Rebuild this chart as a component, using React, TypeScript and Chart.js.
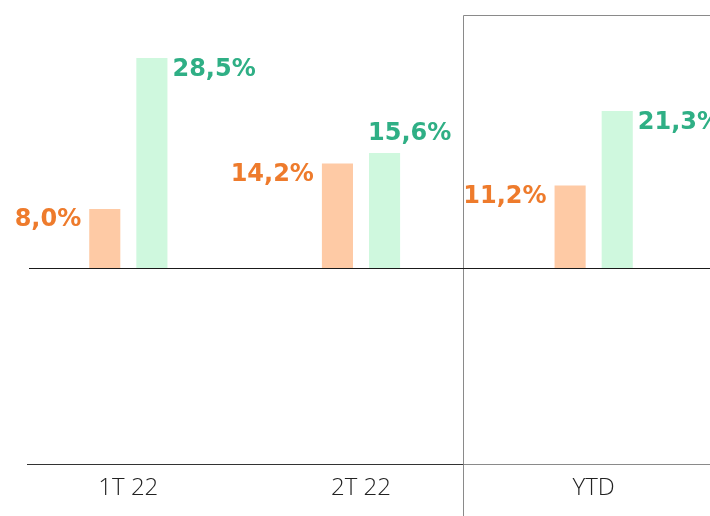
import React, { useEffect, useRef } from "react";
import { Chart, registerables } from "chart.js";

Chart.register(...registerables);

const categories = ["1T 22", "2T 22", "YTD"];
const seriesOrange = [8.0, 14.2, 11.2];
const seriesGreen = [28.5, 15.6, 21.3];

const ORANGE_BAR = "#FECAA5";
const GREEN_BAR = "#CFF8DE";
const ORANGE_TEXT = "#EE7B2C";
const GREEN_TEXT = "#2FAF85";

const fmt = (v: number) => v.toFixed(1).replace(".", ",") + "%";

const decorPlugin = {
  id: "decor",
  beforeDatasetsDraw(chart: any) {
    const { ctx, chartArea, scales } = chart;
    const x = scales.x;
    const lineStart = chartArea.left + 15;
    const boxX = Math.round(x.getPixelForValue(1.44)) + 0.5;
    const bottomY = Math.round(chartArea.bottom) + 0.5;
    const topY = Math.round(chartArea.top) + 0.5;
    ctx.save();
    ctx.strokeStyle = "#8a8a8a";
    ctx.lineWidth = 1;
    ctx.beginPath();
    ctx.moveTo(boxX, chart.height);
    ctx.lineTo(boxX, topY);
    ctx.lineTo(chart.width, topY);
    ctx.stroke();
    ctx.strokeStyle = "#333333";
    ctx.beginPath();
    ctx.moveTo(lineStart, bottomY);
    ctx.lineTo(boxX, bottomY);
    ctx.stroke();
    ctx.strokeStyle = "#8a8a8a";
    ctx.beginPath();
    ctx.moveTo(boxX, bottomY);
    ctx.lineTo(chart.width, bottomY);
    ctx.stroke();
    ctx.restore();
  },
  afterDatasetsDraw(chart: any) {
    const { ctx, scales } = chart;
    const y = scales.y;
    const zeroY = Math.round(y.getPixelForValue(0)) + 0.5;
    ctx.save();
    ctx.strokeStyle = "#1a1a1a";
    ctx.lineWidth = 1.2;
    ctx.beginPath();
    ctx.moveTo(chart.chartArea.left + 17, zeroY);
    ctx.lineTo(chart.width, zeroY);
    ctx.stroke();

    ctx.font = "bold 24px 'DejaVu Sans'";
    ctx.textBaseline = "middle";
    chart.data.datasets.forEach((ds: any, di: number) => {
      const meta = chart.getDatasetMeta(di);
      meta.data.forEach((bar: any, i: number) => {
        const v = ds.data[i];
        const half = bar.width / 2;
        if (di === 0) {
          ctx.fillStyle = ORANGE_TEXT;
          ctx.textAlign = "right";
          ctx.fillText(fmt(v), bar.x - half - 8, bar.y + 11);
        } else {
          ctx.fillStyle = GREEN_TEXT;
          ctx.textAlign = "left";
          if (i === 1) {
            ctx.fillText(fmt(v), bar.x - half - 1, bar.y - 19);
          } else {
            ctx.fillText(fmt(v), bar.x + half + 5, bar.y + 12);
          }
        }
      });
    });
    ctx.restore();
  },
};

export default function App() {
  const ref = useRef<HTMLCanvasElement | null>(null);
  useEffect(() => {
    if (!ref.current) return;
    const chart = new Chart(ref.current, {
      type: "bar",
      data: {
        labels: categories,
        datasets: [
          {
            data: seriesOrange,
            backgroundColor: ORANGE_BAR,
            borderWidth: 0,
            categoryPercentage: 0.405,
            barPercentage: 0.66,
          },
          {
            data: seriesGreen,
            backgroundColor: GREEN_BAR,
            borderWidth: 0,
            categoryPercentage: 0.405,
            barPercentage: 0.66,
          },
        ],
      },
      options: {
        animation: false,
        responsive: false,
        maintainAspectRatio: false,
        layout: { padding: { left: 12, right: 0, top: 15, bottom: 0 } },
        plugins: {
          legend: { display: false },
          tooltip: { enabled: false },
        },
        scales: {
          x: {
            grid: { display: false, drawTicks: false },
            border: { display: false },
            ticks: {
              color: "#222222",
              font: { family: "'Open Sans'", size: 24, weight: "300" },
              padding: 10,
            },
            afterFit: (s: any) => {
              s.height = 52;
            },
          },
          y: {
            display: false,
            min: -26.6,
            max: 34.34,
          },
        },
      },
      plugins: [decorPlugin],
    });
    return () => chart.destroy();
  }, []);
  return (
    <div style={{ position: "fixed", left: 0, top: 0, width: 710, height: 516, background: "#fff" }}>
      <canvas ref={ref} width={710} height={516} style={{ width: 710, height: 516 }} />
    </div>
  );
}
